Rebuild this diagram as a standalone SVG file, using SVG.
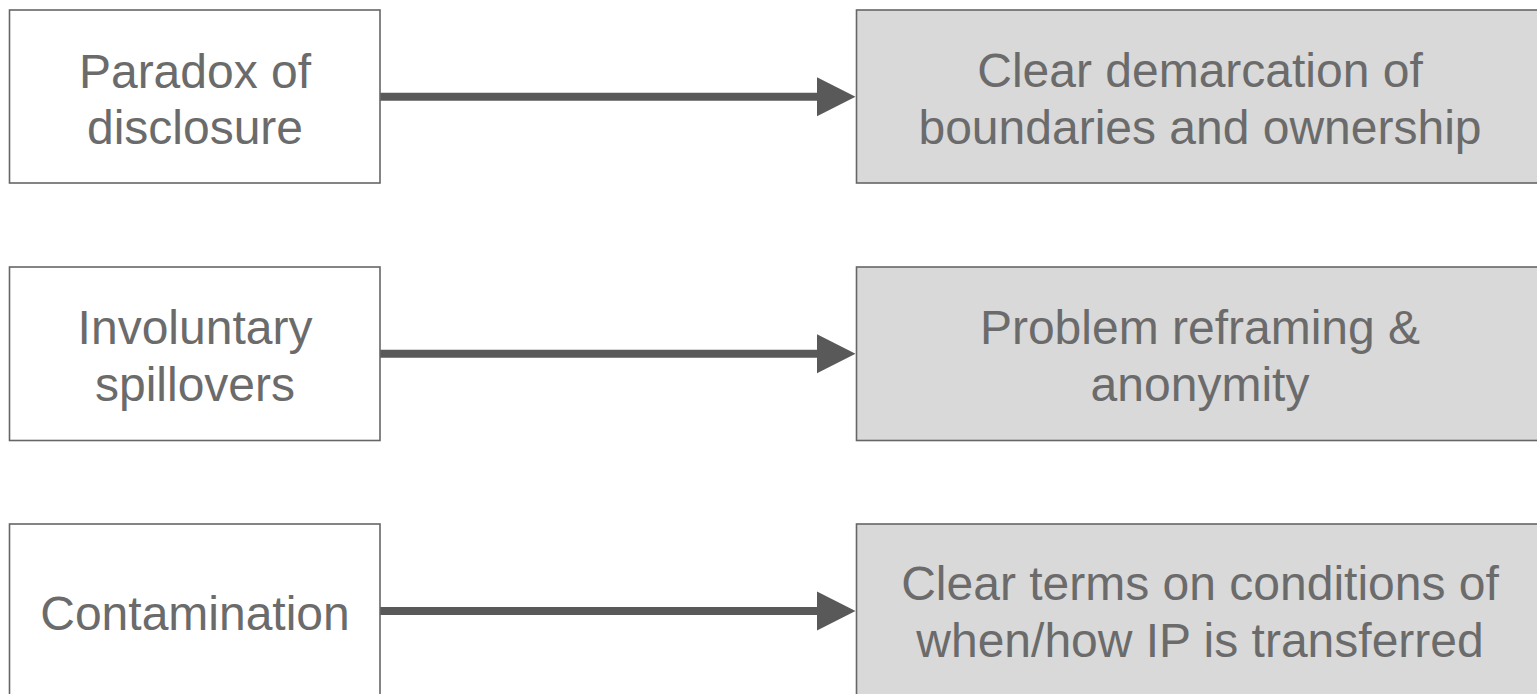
<svg xmlns="http://www.w3.org/2000/svg" width="1537" height="694" viewBox="0 0 1537 694">
  <style>
    .src { fill: #ffffff; stroke: #666666; stroke-width: 1.6; }
    .dst { fill: #d9d9d9; stroke: #666666; stroke-width: 1.6; }
    .lbl { font-family: "Liberation Sans", Arial, sans-serif; font-size: 48px; fill: #6b6b6b; text-anchor: middle; }
    .conn { stroke: #595959; stroke-width: 8; fill: none; marker-end: url(#head); }
  </style>
  <defs>
    <marker id="head" markerUnits="userSpaceOnUse" markerWidth="40" markerHeight="40" refX="0" refY="19.5" orient="auto" overflow="visible">
      <path d="M0,0 L38.5,19.5 L0,39 Z" fill="#595959"/>
    </marker>
  </defs>
  <rect width="1537" height="694" fill="#ffffff"/>

  <g id="connectors">
    <line class="conn" x1="380" y1="96.7" x2="817" y2="96.7"/>
    <line class="conn" x1="380" y1="353.7" x2="817" y2="353.7"/>
    <line class="conn" x1="380" y1="611" x2="817" y2="611"/>
  </g>

  <g id="paradox">
    <rect class="src" x="9.5" y="10" width="370.5" height="173"/>
    <text class="lbl" x="195" y="87.5">Paradox of</text>
    <text class="lbl" x="195" y="144">disclosure</text>
  </g>
  <g id="spillovers">
    <rect class="src" x="9.5" y="267" width="370.5" height="173.5"/>
    <text class="lbl" x="195" y="344">Involuntary</text>
    <text class="lbl" x="195" y="401">spillovers</text>
  </g>
  <g id="contamination">
    <rect class="src" x="9.5" y="524" width="370.5" height="173"/>
    <text class="lbl" x="195" y="629.5">Contamination</text>
  </g>

  <g id="demarcation">
    <rect class="dst" x="856.5" y="10" width="687" height="173"/>
    <text class="lbl" x="1200" y="86.5">Clear demarcation of</text>
    <text class="lbl" x="1200" y="143.5">boundaries and ownership</text>
  </g>
  <g id="reframing">
    <rect class="dst" x="856.5" y="267" width="687" height="173.5"/>
    <text class="lbl" x="1200" y="343.5">Problem reframing &amp;</text>
    <text class="lbl" x="1200" y="400.5">anonymity</text>
  </g>
  <g id="terms">
    <rect class="dst" x="856.5" y="524" width="687" height="173"/>
    <text class="lbl" x="1200" y="600">Clear terms on conditions of</text>
    <text class="lbl" x="1200" y="657">when/how IP is transferred</text>
  </g>
</svg>
